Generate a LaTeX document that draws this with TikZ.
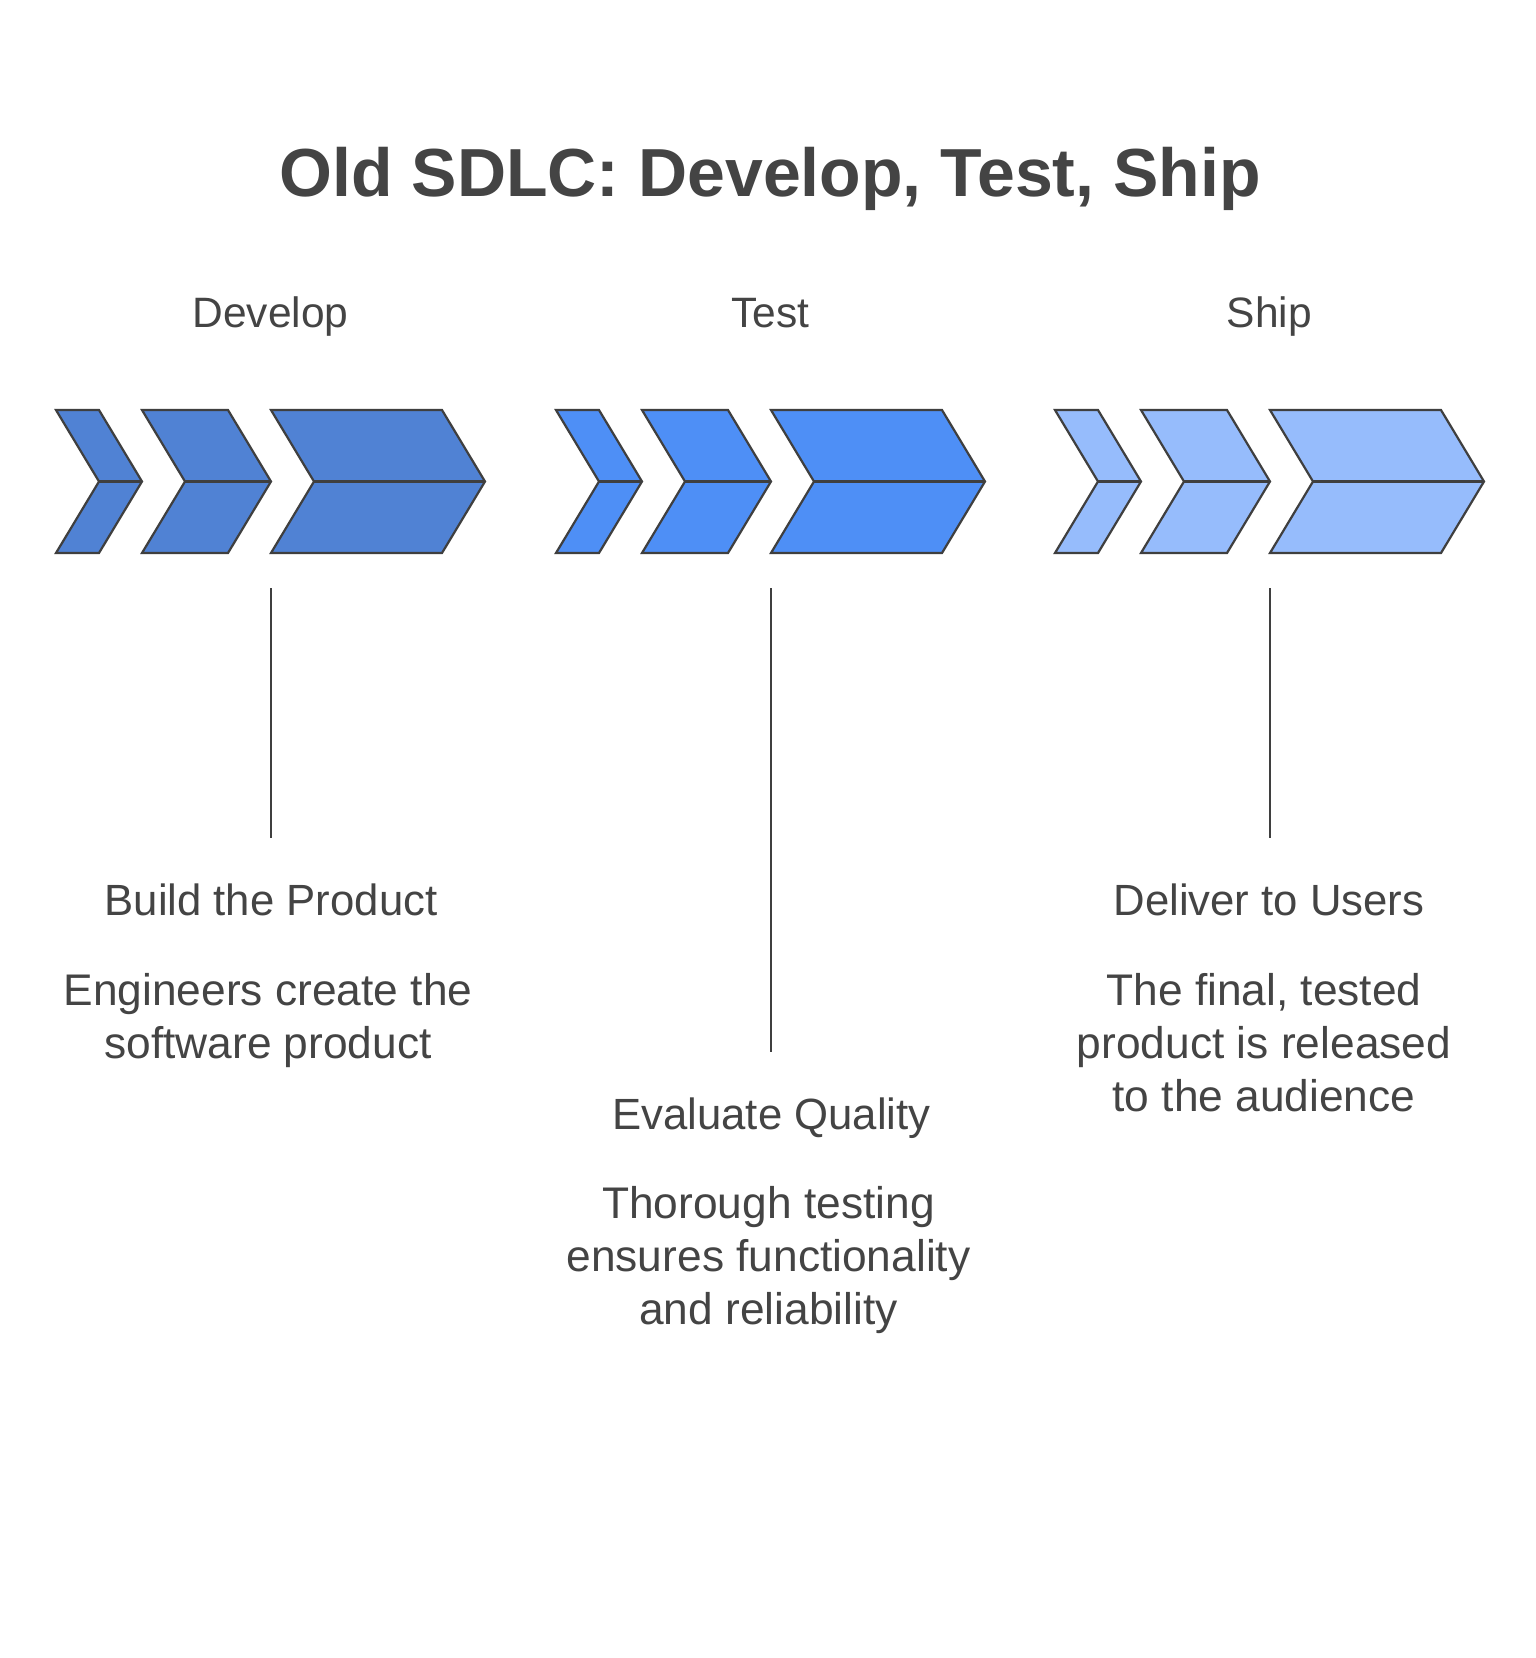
\documentclass[tikz,border=0pt]{standalone}
\usepackage{fontspec}
\setmainfont{Liberation Sans}
\definecolor{txt}{HTML}{444444}
\definecolor{edge}{HTML}{3F3F3F}
\definecolor{devfill}{HTML}{5082D4}
\definecolor{testfill}{HTML}{4E8FF6}
\definecolor{shipfill}{HTML}{96BCFC}
\tikzset{
  chev/.style={draw=edge, line width=2.2pt, line join=miter},
  titletext/.style={text=txt, inner sep=0pt, anchor=base, font=\fontsize{68}{80}\selectfont\bfseries},
  headtext/.style={text=txt, inner sep=0pt, anchor=base, font=\fontsize{42.5}{52}\selectfont},
  subtext/.style={text=txt, inner sep=0pt, anchor=base, font=\fontsize{43.7}{52}\selectfont},
  % base anchor of a multi-line node = baseline of its last line
  bodytext/.style={text=txt, inner sep=0pt, anchor=base, align=center, font=\fontsize{44.3}{53}\selectfont},
  stem/.style={draw=edge, line width=2pt}
}
% #1 group x0, #2 left, #3 top-right, #4 fill colour, #5 name
\newcommand\mychev[5]{%
  \draw[chev, fill=#4] ({#1+#2},410) -- ({#1+#3},410) -- ({#1+#3+43},481.5)
    -- ({#1+#3},553) -- ({#1+#2},553) -- ({#1+#2+43},481.5) -- cycle;
  \coordinate (#5-n) at ({#1+#2+43},481.5);
  \coordinate (#5-t) at ({#1+#3+43},481.5);
  \draw[chev] (#5-n) -- (#5-t);}
\begin{document}
\begin{tikzpicture}[x=1pt,y=-1pt]
\useasboundingbox[fill=white] (0,0) rectangle (1536,1658);

\node[titletext] (title) at (770,196) {Old SDLC: Develop, Test, Ship};

% Develop group
\mychev{56}{0}{43}{devfill}{d1}
\mychev{56}{86}{172}{devfill}{d2}
\mychev{56}{215}{386}{devfill}{d3}
% Test group
\mychev{556}{0}{43}{testfill}{t1}
\mychev{556}{86}{172}{testfill}{t2}
\mychev{556}{215}{386}{testfill}{t3}
% Ship group
\mychev{1055}{0}{43}{shipfill}{s1}
\mychev{1055}{86}{172}{shipfill}{s2}
\mychev{1055}{215}{386}{shipfill}{s3}

\node[headtext] (hdev) at (270.5,327) {Develop};
\node[headtext] (htest) at (770.5,327) {Test};
\node[headtext] (hship) at (1269.5,327) {Ship};

\coordinate (devtop) at (270.5,588);
\coordinate (devbot) at (270.5,838);
\coordinate (testtop) at (770.5,588);
\coordinate (testbot) at (770.5,1052);
\coordinate (shiptop) at (1269.5,588);
\coordinate (shipbot) at (1269.5,838);
\draw[stem] (devtop) -- (devbot);
\draw[stem] (testtop) -- (testbot);
\draw[stem] (shiptop) -- (shipbot);

\node[subtext] (devh) at (271,915) {Build the Product};
\node[bodytext] (devb) at (268,1058) {Engineers create the\\software product};

\node[subtext] (testh) at (771.5,1129) {Evaluate Quality};
\node[bodytext] (testb) at (768.5,1324) {Thorough testing\\ensures functionality\\and reliability};

\node[subtext] (shiph) at (1269,915) {Deliver to Users};
\node[bodytext] (shipb) at (1264,1111) {The final, tested\\product is released\\to the audience};
\end{tikzpicture}
\end{document}
